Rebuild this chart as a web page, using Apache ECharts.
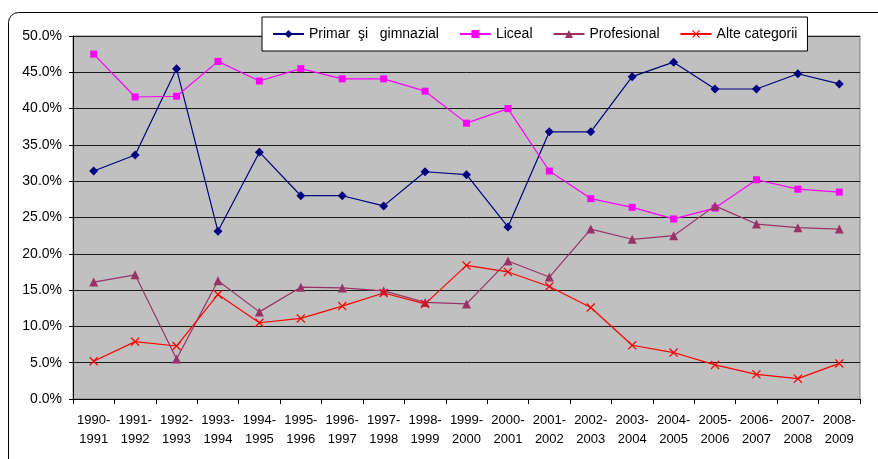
<!DOCTYPE html>
<html>
<head>
<meta charset="utf-8">
<script src="https://cdn.jsdelivr.net/npm/echarts@6/dist/echarts.min.js"></script>
<style>
html,body{margin:0;padding:0;background:#fff;}
#c{width:878px;height:459px;}
</style>
</head>
<body>
<div id="c"></div>
<script>
var categories = ['1990-\n1991','1991-\n1992','1992-\n1993','1993-\n1994','1994-\n1995','1995-\n1996','1996-\n1997','1997-\n1998','1998-\n1999','1999-\n2000','2000-\n2001','2001-\n2002','2002-\n2003','2003-\n2004','2004-\n2005','2005-\n2006','2006-\n2007','2007-\n2008','2008-\n2009'];
var seriesNames = ['Primar  şi   gimnazial','Liceal','Profesional','Alte categorii'];
var primar = [31.4,33.6,45.5,23.1,34.0,28.0,28.0,26.6,31.3,30.9,23.7,36.8,36.8,44.4,46.4,42.7,42.7,44.8,43.4];
var liceal = [47.5,41.6,41.7,46.5,43.8,45.5,44.1,44.1,42.4,38.0,40.0,31.4,27.6,26.4,24.8,26.3,30.2,28.9,28.5];
var profesional = [16.1,17.1,5.5,16.3,12.0,15.4,15.3,14.9,13.3,13.1,19.0,16.8,23.4,22.0,22.5,26.6,24.1,23.6,23.4];
var alte = [5.2,7.9,7.3,14.4,10.5,11.1,12.8,14.6,13.1,18.4,17.5,15.5,12.6,7.4,6.4,4.7,3.4,2.8,4.9];

var crossPath = 'path://M0,1L1,0L5,4L9,0L10,1L6,5L10,9L9,10L5,6L1,10L0,9L4,5Z';
var font = 'Liberation Sans, Arial, sans-serif';

var chart = echarts.init(document.getElementById('c'), null, {renderer:'canvas'});
function mk(name, data, color, symbol, size){
  return {
    name: name, type: 'line', data: data, symbol: symbol, symbolSize: size,
    showAllSymbol: true,
    lineStyle: {color: color, width: 1.2},
    itemStyle: {color: color},
    emphasis: {disabled: true},
    animation: false
  };
}
chart.setOption({
  animation: false,
  textStyle: {fontFamily: font},
  graphic: [{
    type: 'rect', left: 8, top: 12, z: -10,
    shape: {width: 885, height: 470, r: 10},
    style: {fill: '#fff', stroke: '#000', lineWidth: 1}
  }],
  legend: {
    left: 262, top: 17,
    width: 541, height: 34,
    padding: [10, 10, 10, 10],
    itemGap: 20,
    itemWidth: 31, itemHeight: 10,
    backgroundColor: '#fff', borderColor: '#000', borderWidth: 1, borderRadius: 0,
    textStyle: {fontSize: 14, color: '#000', fontFamily: font},
    data: seriesNames
  },
  grid: {
    left: 73, right: 18, top: 36, bottom: 60,
    show: true, backgroundColor: '#c0c0c0', borderColor: '#808080', borderWidth: 1,
    containLabel: false
  },
  xAxis: {
    type: 'category', data: categories, boundaryGap: true,
    axisLine: {lineStyle: {color: '#000', width: 1}},
    axisTick: {show: true, alignWithLabel: false, length: 5, lineStyle: {color: '#000'}},
    axisLabel: {interval: 0, color: '#000', fontSize: 13, lineHeight: 19, margin: 12, fontFamily: font},
    splitLine: {show: false}
  },
  yAxis: {
    type: 'value', min: 0, max: 50, interval: 5,
    axisLine: {show: true, lineStyle: {color: '#000', width: 1}},
    axisTick: {show: true, length: 4, lineStyle: {color: '#000'}},
    axisLabel: {color: '#000', fontSize: 14, margin: 11, fontFamily: font,
      formatter: function(v){ return v.toFixed(1) + '%'; }},
    splitLine: {show: true, lineStyle: {color: '#1a1a1a', width: 1}}
  },
  series: [
    mk(seriesNames[0], primar, '#000080', 'diamond', 9),
    mk(seriesNames[1], liceal, '#ff00ff', 'rect', 7),
    mk(seriesNames[2], profesional, '#993366', 'triangle', 9),
    mk(seriesNames[3], alte, '#ff0000', crossPath, 9)
  ]
});
</script>
</body>
</html>
